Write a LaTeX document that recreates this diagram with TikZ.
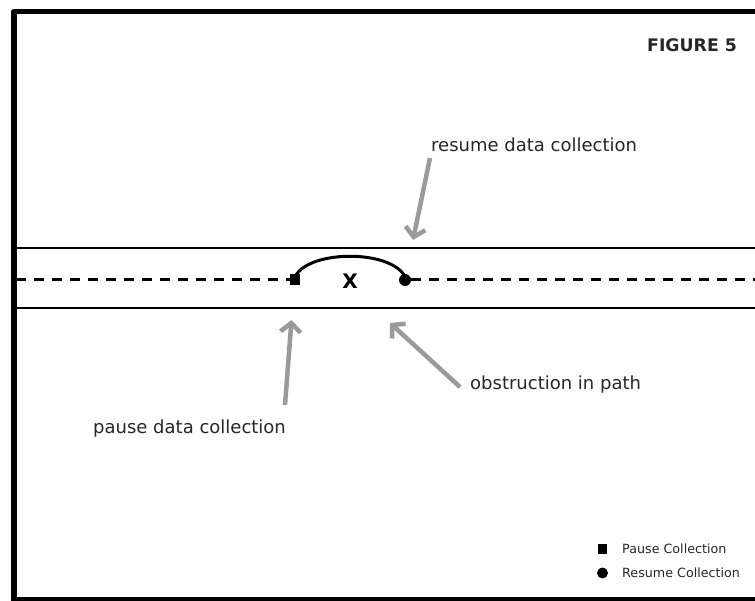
\documentclass[tikz,border=0pt]{standalone}
\usepackage{fontspec}
\setmainfont{DejaVu Sans}
\usetikzlibrary{arrows.meta}
\definecolor{arrowgray}{HTML}{9A9A9A}
\tikzset{
  frameline/.style={line width=5.5pt, line join=round},
  pathline/.style={line width=2pt},
  dashline/.style={line width=3pt, dash pattern=on 10pt off 8pt},
  pointer/.style={draw=arrowgray, line width=4.5pt, -{Straight Barb[length=9pt,width=20pt,line width=4.5pt]}},
  label/.style={font=\fontsize{18}{20}\selectfont, text=black!85, inner sep=0pt},
  legendtext/.style={font=\fontsize{12.7}{14}\selectfont, text=black!85, inner sep=0pt},
}
\begin{document}
\begin{tikzpicture}[x=1pt,y=-1pt]
\useasboundingbox (0,0) rectangle (755,601);
% frame
\draw[frameline] (13.8,610) -- (13.8,11.7) -- (760,11.7);
\draw[line width=4pt] (13.8,599) -- (760,599);
% road lines
\coordinate (rl1) at (13.8,248.5);
\coordinate (rr1) at (755,248.5);
\coordinate (rl2) at (13.8,308.5);
\coordinate (rr2) at (755,308.5);
\draw[pathline] (rl1) -- (rr1);
\draw[pathline] (rl2) -- (rr2);
% markers
\node[fill=black, minimum width=10pt, minimum height=11pt, inner sep=0pt] (pause) at (295,280) {};
\node[circle, fill=black, minimum size=12pt, inner sep=0pt] (resume) at (405,280) {};
\coordinate (dl) at (16,280);
\coordinate (dr) at (755,280);
\draw[dashline] (dl) -- (pause.west);
\draw[dashline] (resume.east) -- (dr);
\draw[line width=3pt] (296,275) .. controls (312,250) and (388,250) .. (404,275);
\node[font=\bfseries\fontsize{20}{22}\selectfont, inner sep=0pt] (x) at (350,281) {X};
% labels
\node[label, anchor=base west] (tres) at (431,152) {resume data collection};
\node[label, anchor=base west] (tpause) at (93,433) {pause data collection};
\node[label, anchor=base west] (tobs) at (470,390) {obstruction in path};
\node[font=\bfseries\fontsize{17.3}{19}\selectfont, inner sep=0pt, anchor=base west, text=black!85] (fig) at (647,52) {FIGURE 5};
% pointers
\coordinate (a1s) at (430,158);
\coordinate (a1e) at (413,240);
\coordinate (a2s) at (285,405);
\coordinate (a2e) at (291.5,320);
\coordinate (a3s) at (460,387);
\coordinate (a3e) at (390,323);
\draw[pointer] (a1s) -- (a1e);
\draw[pointer] (a2s) -- (a2e);
\draw[pointer] (a3s) -- (a3e);
% legend
\node[fill=black, minimum width=9pt, minimum height=10pt, inner sep=0pt] (lsq) at (602.5,548.5) {};
\node[circle, fill=black, minimum size=11pt, inner sep=0pt] (lci) at (602.5,573) {};
\node[legendtext, anchor=base west] (lt1) at (622,553) {Pause Collection};
\node[legendtext, anchor=base west] (lt2) at (622,577) {Resume Collection};
\end{tikzpicture}
\end{document}
